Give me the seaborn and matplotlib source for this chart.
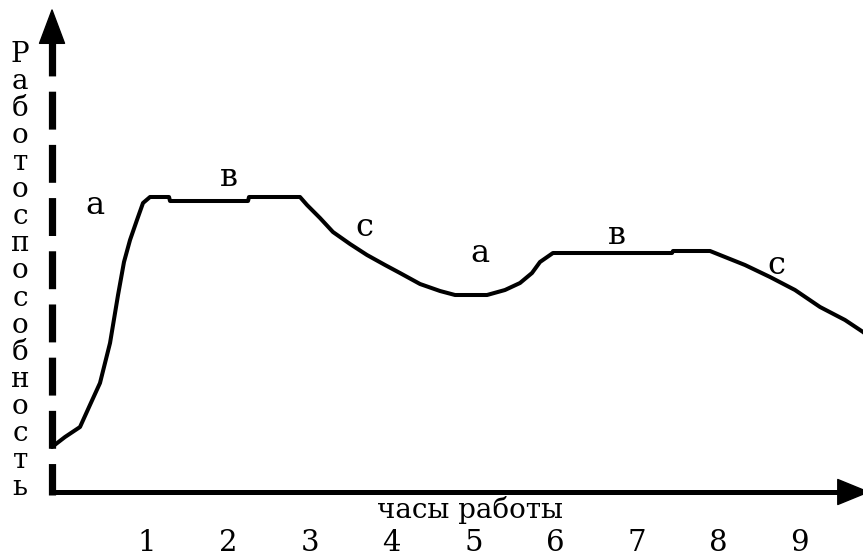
import matplotlib
matplotlib.use("Agg")
import matplotlib.pyplot as plt
import seaborn as sns
import pandas as pd

# ---- data ----
hours = [-0.164, -0.005, 0.179, 0.301, 0.424, 0.547, 0.645, 0.718, 0.792, 0.877,
         0.951, 1.037, 1.270, 1.282, 2.238, 2.250, 2.875, 2.961, 3.120, 3.279,
         3.488, 3.696, 3.917, 4.100, 4.346, 4.591, 4.775, 5.167, 5.387, 5.571,
         5.718, 5.816, 5.975, 7.434, 7.446, 7.900, 8.022, 8.328, 8.635, 8.941,
         9.248, 9.554, 9.775, 10.0]
perf = [4.3, 5.3, 6.3, 8.5, 10.7, 14.7, 19.5, 22.8, 25.0, 27.0,
        28.7, 29.3, 29.3, 28.9, 28.9, 29.3, 29.3, 28.5, 27.2, 25.8,
        24.6, 23.5, 22.5, 21.7, 20.6, 19.9, 19.5, 19.5, 20.0, 20.7,
        21.7, 22.8, 23.7, 23.7, 23.9, 23.9, 23.5, 22.5, 21.3, 20.0,
        18.3, 17.0, 15.8, 14.3]
tick_values = [1, 2, 3, 4, 5, 6, 7, 8, 9]
tick_labels = ["1", "2", "3", "4", "5", "6", "7", "8", "9"]
phase_labels = ["a", "в", "c", "a", "в", "c"]
phase_x = [0.36, 2.0, 3.67, 5.08, 6.76, 8.71]
phase_y = [28.4, 31.3, 26.2, 23.7, 25.4, 22.5]
y_title = "Работоспособность"
x_title = "часы работы"

sns.set_style("white")
plt.rcParams["lines.scale_dashes"] = False
FONT = ["DejaVu Serif", "Liberation Serif"]

fig = plt.figure(figsize=(8.63, 5.57), dpi=100)
ax = fig.add_axes([0, 0, 1, 1])
ax.set_xlim(-0.8015, 9.7745)
ax.set_ylim(-6.7, 49.0)
ax.axis("off")

df = pd.DataFrame({"hours": hours, "perf": perf})
sns.lineplot(data=df, x="hours", y="perf", sort=False, estimator=None,
             color="black", linewidth=2.9, ax=ax, solid_joinstyle="round")

x0 = -0.164
y0 = -0.2
# x axis
ax.plot([x0 - 0.04, 9.47], [y0, y0], color="black", linewidth=3.6,
        solid_capstyle="butt")
ax.annotate("", xy=(9.84, y0), xytext=(9.44, y0), annotation_clip=False,
            arrowprops=dict(facecolor="black", edgecolor="black", width=0.5,
                            headwidth=18, headlength=22, shrink=0))
# y axis (dashed)
yl, = ax.plot([x0, x0], [45.2, y0 - 0.25], color="black", linewidth=5.2,
              solid_capstyle="butt", dash_capstyle="butt")
yl.set_dashes([27.3, 11.0])
ax.annotate("", xy=(x0, 48.0), xytext=(x0, 44.6), annotation_clip=False,
            arrowprops=dict(facecolor="black", edgecolor="black", width=0.5,
                            headwidth=18, headlength=24, shrink=0))

# vertical title letters
n = len(y_title)
top_b, bot_b = 42.8, -0.5
for i, ch in enumerate(y_title):
    yy = top_b + (bot_b - top_b) * i / (n - 1)
    ax.text(-0.556, yy, ch, family=FONT, fontsize=20, ha="center",
            va="baseline", color="black")

# x title and ticks
ax.text(4.96, -2.8, x_title, family=FONT, fontsize=20, ha="center",
        va="baseline", color="black")
for v, lab in zip(tick_values, tick_labels):
    ax.text(v, -5.3, lab, family=FONT, fontsize=21, ha="center",
            va="center", color="black")

# phase labels
for px, py, lab in zip(phase_x, phase_y, phase_labels):
    ax.text(px, py, lab, family=FONT, fontsize=23, ha="center",
            va="center", color="black")

fig.savefig("out.png", dpi=100)
